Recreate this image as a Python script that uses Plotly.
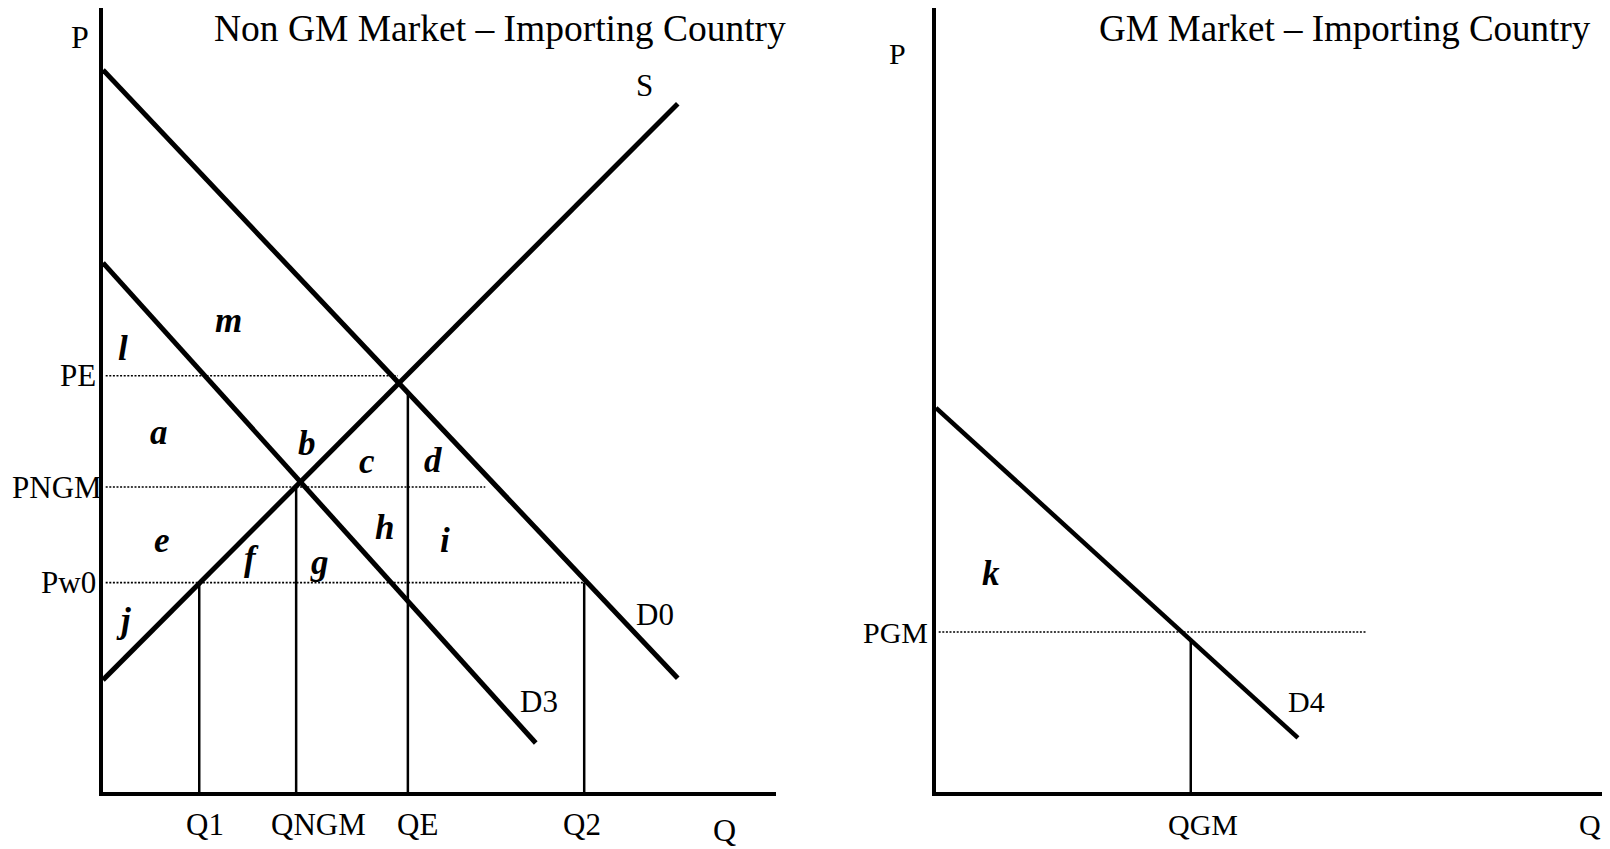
import plotly.graph_objects as go

# Page body has an 8px default margin, so the figure is drawn 8px smaller and
# every reference pixel position is offset by 8.
OFF = 8
W, H = 1610 - OFF, 849 - OFF
FONT = "Liberation Serif, Times New Roman, serif"

# ---------------- Left panel: Non GM market (arbitrary units 0-100) ----------------
D0_q = [0, 85.4]
D0_p = [92.1, 14.5]
S_q = [0, 85.4]
S_p = [14.3, 87.8]
D3_q = [0, 64.3]
D3_p = [67.5, 6.25]

price_labels = ["PE", "PNGM", "Pw0"]
price_vals = [53.1, 38.9, 26.7]
price_dot_end = [43.8, 56.8, 71.5]
price_label_shift = [-5, 1, -5]

q_labels = ["Q1", "QNGM", "QE", "Q2"]
q_vals = [14.3, 28.7, 45.3, 71.5]
q_tops = [26.7, 38.9, 51.0, 26.7]
q_label_shift = [6, 22, 10, -2]

area_labels = ["l", "m", "a", "b", "c", "d", "e", "f", "g", "h", "i", "j"]
area_x = [3.0, 18.6, 8.3, 30.3, 39.2, 49.0, 8.8, 22.0, 32.1, 41.9, 50.8, 3.0]
area_y = [56.6, 60.2, 45.9, 44.5, 42.1, 42.3, 32.1, 29.8, 29.3, 33.8, 32.1, 21.9]

curve_labels = ["S", "D0", "D3"]
curve_lx = [80.5, 82.0, 64.8]
curve_ly = [90.1, 22.6, 11.5]

# ---------------- Right panel: GM market ----------------
D4_q = [0, 53.7]
D4_p = [49.0, 6.9]
PGM_val = 20.4
PGM_dot_end = 63.8
QGM_val = 37.8
QGM_top = 19.4
k_x, k_y = 8.2, 27.9
D4_lx, D4_ly = 55.0, 11.5

# layout geometry (reference pixels)
L_x0, L_x1 = 103 - OFF, 776 - OFF
R_x0, R_x1 = 936 - OFF, 1610 - OFF
Y_top, Y_bot = 8 - OFF, 792 - OFF

fig = go.Figure()

def line(xs, ys, w, xa="x", ya="y", dash=None):
    fig.add_trace(go.Scatter(x=xs, y=ys, mode="lines", xaxis=xa, yaxis=ya,
                             line=dict(color="black", width=w, dash=dash),
                             hoverinfo="skip", showlegend=False, cliponaxis=False))

# left curves
line(D0_q, D0_p, 5)
line(S_q, S_p, 5)
line(D3_q, D3_p, 5)
for pv, pe in zip(price_vals, price_dot_end):
    line([0.4, pe], [pv, pv], 1.6, dash="2px,1.6px")
for qv, qt in zip(q_vals, q_tops):
    line([qv, qv], [0, qt], 2.5)

# right curves
line(D4_q, D4_p, 4.5, "x2", "y2")
line([0.4, PGM_dot_end], [PGM_val, PGM_val], 1.6, "x2", "y2", dash="2px,1.6px")
line([QGM_val, QGM_val], [0, QGM_top], 2.5, "x2", "y2")

ann = []
def text(x, y, s, size, xref="x", yref="y", xanchor="center", yanchor="middle", xshift=0, yshift=0):
    ann.append(dict(x=x, y=y, xref=xref, yref=yref, text=s, showarrow=False,
                    font=dict(family=FONT, size=size, color="black"),
                    xanchor=xanchor, yanchor=yanchor, xshift=xshift, yshift=yshift))

# titles
text((500 - OFF) / W, 1 - (28 - OFF) / H, "Non GM Market \u2013 Importing Country", 37.5, "paper", "paper")
text((1345 - OFF) / W, 1 - (29 - OFF) / H, "GM Market \u2013 Importing Country", 37, "paper", "paper")

# left axis labels
text(0, 100, "P", 32, "x", "y", xanchor="right", yanchor="middle", xshift=-12, yshift=-29)
text(100, 0, "Q", 32, "x", "y", xanchor="center", yanchor="middle", xshift=-52, yshift=-38)
for lab, pv, sh in zip(price_labels, price_vals, price_label_shift):
    text(0, pv, lab, 31, xanchor="right", xshift=sh)
for lab, qv, sh in zip(q_labels, q_vals, q_label_shift):
    text(qv, 0, lab, 31, yanchor="middle", xshift=sh, yshift=-32)
for lab, ax_, ay_ in zip(area_labels, area_x, area_y):
    text(ax_, ay_, "<b><i>" + lab + "</i></b>", 35)
for lab, lx, ly in zip(curve_labels, curve_lx, curve_ly):
    text(lx, ly, lab, 31)

# right axis labels
text(0, 100, "P", 30, "x2", "y2", xanchor="right", yanchor="middle", xshift=-28, yshift=-45)
text(100, 0, "Q", 30, "x2", "y2", xanchor="center", yanchor="middle", xshift=-20, yshift=-32)
text(0, PGM_val, "PGM", 30, "x2", "y2", xanchor="right", xshift=-6)
text(QGM_val, 0, "QGM", 30, "x2", "y2", xshift=12, yshift=-32)
text(k_x, k_y, "<b><i>k</i></b>", 35, "x2", "y2")
text(D4_lx, D4_ly, "D4", 30, "x2", "y2")

axis_common = dict(range=[0, 100], showgrid=False, zeroline=False, showticklabels=False,
                   ticks="", showline=True, linecolor="black", fixedrange=True)

fig.update_layout(
    width=W, height=H,
    margin=dict(l=0, r=0, t=0, b=0),
    paper_bgcolor="white", plot_bgcolor="white",
    showlegend=False,
    xaxis=dict(domain=[L_x0 / W, L_x1 / W], anchor="y", linewidth=3.5, **axis_common),
    yaxis=dict(domain=[1 - Y_bot / H, 1 - Y_top / H], anchor="x", linewidth=3.5, **axis_common),
    xaxis2=dict(domain=[R_x0 / W, R_x1 / W], anchor="y2", linewidth=3.5, **axis_common),
    yaxis2=dict(domain=[1 - Y_bot / H, 1 - Y_top / H], anchor="x2", linewidth=3.5, **axis_common),
    annotations=ann,
)

fig.write_html("out.html")
